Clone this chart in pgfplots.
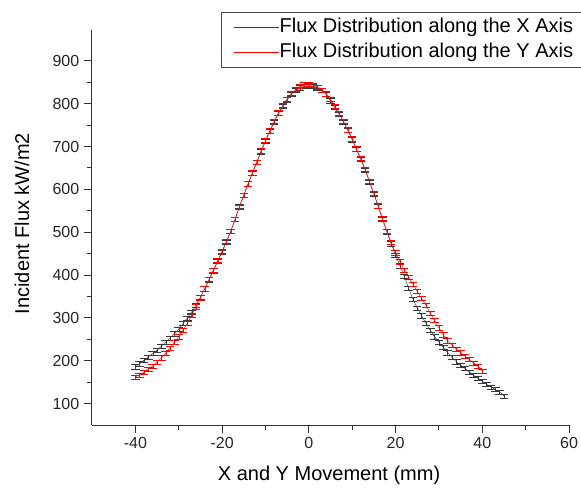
\documentclass[border=0pt]{standalone}
\usepackage{fontspec}
\setmainfont{Liberation Sans}
\usepackage{pgfplots}
\pgfplotsset{compat=1.18}
\usetikzlibrary{calc}
\definecolor{xser}{HTML}{3A3A3A}
\definecolor{xbar}{HTML}{707070}
\definecolor{yser}{HTML}{FF0000}
\definecolor{ybar}{HTML}{FF6A6A}

\pgfplotstableread{
x y
-40 186
-39 193
-38 201
-37 209
-36 217
-35 225
-34 234
-33 243
-32 253
-31 263
-30 274
-29 287
-28 300
-27 314
-26 330
-25 348
-24 368
-23 389
-22 410
-21 432
-20 454
-19 477
-18 502
-17 530
-16 560
-15 587
-14 613
-13 638
-12 663
-11 688
-10 712
-9 735
-8 757
-7 777
-6 794
-5 809
-4 822
-3 831
-2 837
-1 841
0 842
1 841
2 837
3 831
4 822
5 807
6 791
7 775
8 757
9 738
10 716
11 693
12 670
13 645
14 617
15 589
16 560
17 530
18 501
19 473
20 447
21 422
22 397
23 370
24 344
25 323
26 305
27 288
28 271
29 256
30 243
31 231
32 219
33 208
34 198
35 190
36 182
37 174
38 166
39 159
40 152
41 145
42 139
43 133
44 127
45 118
}\xdata

\pgfplotstableread{
x y
-40 162
-39 167
-38 173
-37 180
-36 188
-35 197
-34 207
-33 218
-32 230
-31 243
-30 256
-29 271
-28 288
-27 306
-26 326
-25 347
-24 368
-23 390
-22 412
-21 434
-20 456
-19 479
-18 503
-17 530
-16 559
-15 586
-14 613
-13 639
-12 664
-11 690
-10 714
-9 737
-8 759
-7 779
-6 796
-5 811
-4 824
-3 834
-2 840
-1 844
0 845
1 843
2 839
3 832
4 823
5 810
6 794
7 777
8 759
9 739
10 718
11 695
12 672
13 647
14 619
15 591
16 562
17 532
18 503
19 476
20 452
21 431
22 412
23 395
24 379
25 362
26 346
27 329
28 311
29 294
30 277
31 261
32 247
33 236
34 227
35 219
36 211
37 203
38 195
39 187
40 176
}\ydata

\begin{document}
\begin{tikzpicture}
\begin{axis}[
  scale only axis,
  width=357.75pt, height=296.25pt,
  xmin=-50, xmax=60, ymin=50, ymax=972,
  axis x line*=bottom, axis y line*=left,
  axis line style={black!80, line width=0.75pt},
  xtick={-40,-20,...,60}, ytick={100,200,...,900},
  minor x tick num=1, minor y tick num=1,
  tick align=outside,
  major tick length=6pt, minor tick length=3.5pt,
  tick style={black!80, line width=0.75pt},
  /pgf/number format/assume math mode=true,
  tick label style={font=\fontsize{12}{14}\selectfont, text=black!85},
  label style={font=\fontsize{15}{18}\selectfont},
  xlabel={X and Y Movement (mm)},
  ylabel={Incident Flux kW/m2},
  xlabel style={at={(axis description cs:0.497,-0.1266)}, anchor=center},
  ylabel style={at={(axis description cs:-0.1468,0.51)}, anchor=center},
  legend cell align=left,
  legend image code/.code={\draw[#1] (0pt,0pt) -- (33.75pt,0pt);},
  legend style={
    at={(axis description cs:0.270,1.0456)}, anchor=north west,
    draw=black!70, line width=0.6pt,
    font=\fontsize{15}{18}\selectfont,
    inner xsep=9.75pt, inner ysep=4.25pt,
    row sep=4.75pt,
    nodes={inner sep=0pt, text height=11pt, text depth=3pt},
  },
]
\addplot[xser, line width=0.35pt, mark=none,
  error bars/.cd, y dir=both, y fixed=5,
  error bar style={xbar, line width=0.3pt},
  error mark options={rotate=90, mark size=3.2pt, xbar, line width=0.3pt}]
  table {\xdata};
\addlegendentry{Flux Distribution along the X Axis}
\addplot[yser, line width=0.35pt, mark=none,
  error bars/.cd, y dir=both, y fixed=5,
  error bar style={ybar, line width=0.3pt},
  error mark options={rotate=90, mark size=3.2pt, ybar, line width=0.3pt}]
  table {\ydata};
\addlegendentry{Flux Distribution along the Y Axis}
\end{axis}
\pgfresetboundingbox
\path ($(current axis.south west)+(-69pt,-50.25pt)$) rectangle ($(current axis.north east)+(9pt,22.5pt)$);
\end{tikzpicture}
\end{document}
